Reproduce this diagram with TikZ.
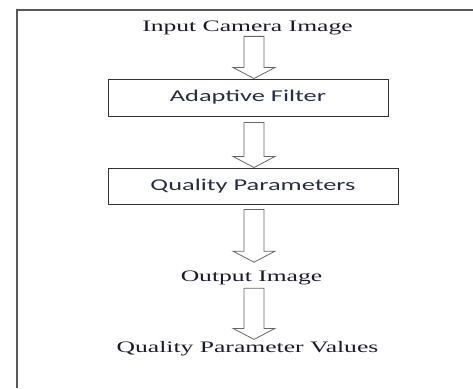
\documentclass[tikz,border=0pt]{standalone}
\usepackage{fontspec}
\setmainfont[FakeStretch=1.6]{Liberation Serif}
\newfontfamily\boxfont[FakeStretch=1.6]{Carlito}
\usepackage{tikz}
\usetikzlibrary{calc, positioning}

\definecolor{inkdark}{RGB}{25,25,45}
\definecolor{inkbox}{RGB}{40,45,70}

\tikzset{
  label/.style={font=\fontsize{16}{18}\selectfont, text=inkdark, inner sep=0pt, anchor=base},
  procbox/.style={draw=black!80, line width=1pt, font=\boxfont\fontsize{16.5}{18}\selectfont, text=inkbox, inner sep=0pt},
  blockarr/.style={draw=black!60, line width=0.8pt, fill=white, line join=miter}
}

\newcommand{\blockarrow}[4]{%
  \coordinate (s) at ($(#1 -| axis)+(0,#3)$);
  \coordinate (t) at ($(#2 -| axis)+(0,-#4)$);
  \draw[blockarr] ($(s)+(-10,0)$) -- ($(t)+(-10,-11)$) -- ($(t)+(-21,-11)$) -- (t)
    -- ($(t)+(21,-11)$) -- ($(t)+(10,-11)$) -- ($(s)+(10,0)$) -- cycle;}

\begin{document}
\begin{tikzpicture}[x=1pt, y=-1pt]
      \useasboundingbox (0,0) rectangle (473,388);
      \draw[black!65, line width=2pt] (16.5,388) -- (16.5,9.5) -- (473,9.5);
      \coordinate (axis) at (254,0);
      \node[label] (in) at (247.5,31.7) {Input Camera Image};
      \node[procbox, minimum width=280pt, minimum height=37pt] (filt) at (248,97.5) {Adaptive Filter};
      \node[procbox, minimum width=290pt, minimum height=36pt] (qual) at (253,186) {Quality Parameters};
      \node[label] (out) at (251.5,281) {Output Image};
      \node[label] (val) at (247.5,352.7) {Quality Parameter Values};
      \blockarrow{in.south}{filt.north}{1}{0}
      \blockarrow{filt.south}{qual.north}{6}{0}
      \blockarrow{qual.south}{out.north}{5}{8}
      \blockarrow{out.south}{val.north}{3.6}{2}
    \end{tikzpicture}
\end{document}
